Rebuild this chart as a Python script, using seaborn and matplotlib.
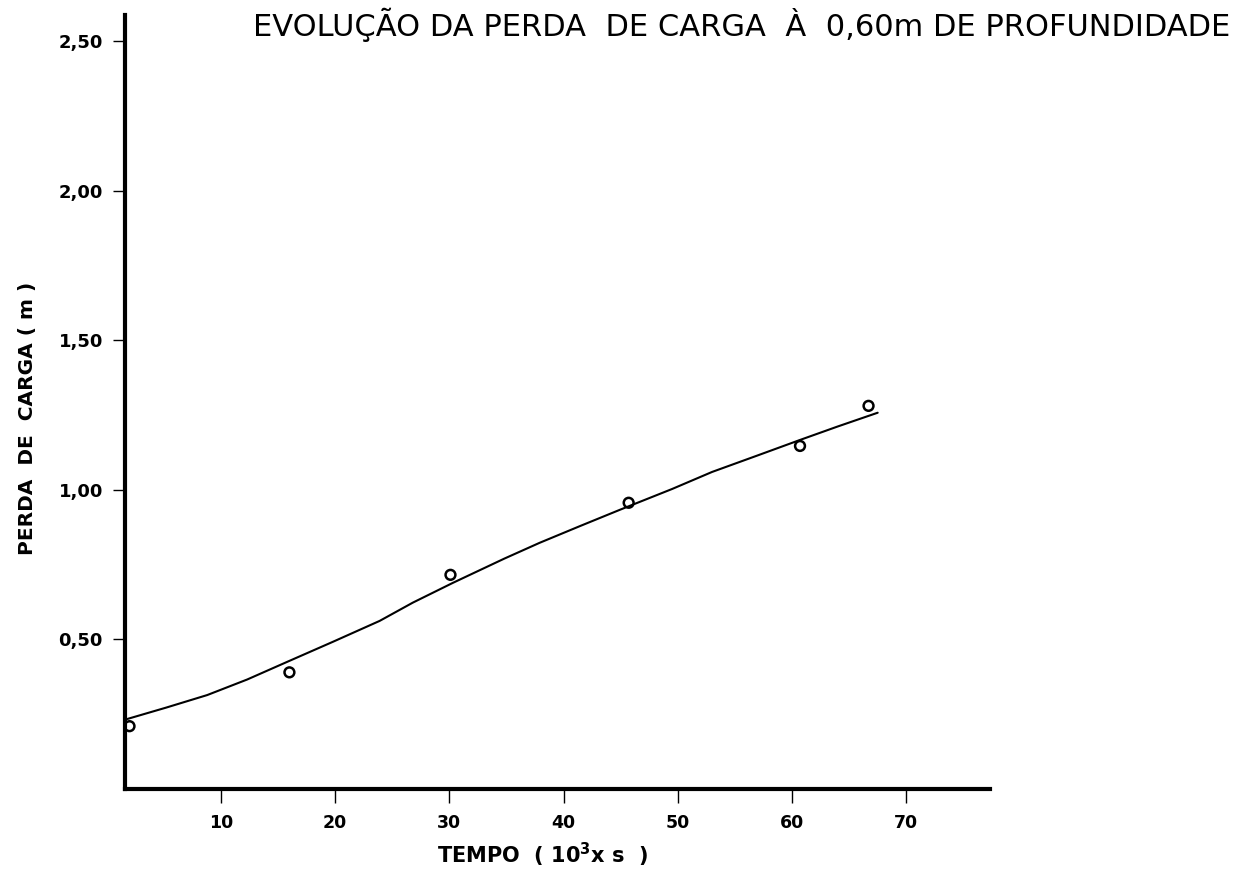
import matplotlib
matplotlib.use("Agg")
import matplotlib.pyplot as plt
import seaborn as sns
import pandas as pd

# Measured points (tempo in 10^3 s, perda de carga in m)
tempo_pts = [2.0, 16.0, 30.1, 45.7, 60.7, 66.7]
perda_pts = [0.21, 0.39, 0.716, 0.957, 1.147, 1.281]

# Hand-drawn fitted curve
tempo_curve = [1.8, 5.2, 8.8, 12.3, 15.8, 19.8, 23.9, 26.8, 30.3, 34.8,
               37.9, 41.5, 44.9, 49.5, 53.0, 56.9, 60.7, 64.0, 67.5]
perda_curve = [0.234, 0.272, 0.314, 0.366, 0.425, 0.492, 0.562, 0.623, 0.689, 0.770,
               0.823, 0.880, 0.933, 1.003, 1.060, 1.114, 1.167, 1.212, 1.258]

x_ticks = [10, 20, 30, 40, 50, 60, 70]
x_tick_labels = ["10", "20", "30", "40", "50", "60", "70"]
y_ticks = [0.5, 1.0, 1.5, 2.0, 2.5]
y_tick_labels = ["0,50", "1,00", "1,50", "2,00", "2,50"]

title = "EVOLUÇÃO DA PERDA  DE CARGA  À  0,60m DE PROFUNDIDADE"
xlabel = "TEMPO  ( 10$^{3}$x s  )"
ylabel = "PERDA  DE  CARGA ( m )"

sns.set_style("ticks")
plt.rcParams["font.family"] = ["DejaVu Sans"]
plt.rcParams["mathtext.fontset"] = "dejavusans"
plt.rcParams["mathtext.default"] = "bf"
plt.rcParams["text.color"] = "black"
plt.rcParams["axes.labelcolor"] = "black"

fig = plt.figure(figsize=(12.53, 8.72), dpi=100)
ax = fig.add_axes([0.0998, 0.0952, 0.690, 0.888])

df_curve = pd.DataFrame({"tempo": tempo_curve, "perda": perda_curve})
df_pts = pd.DataFrame({"tempo": tempo_pts, "perda": perda_pts})

sns.lineplot(data=df_curve, x="tempo", y="perda", sort=False, color="black",
             linewidth=1.5, ax=ax)
sns.scatterplot(data=df_pts, x="tempo", y="perda", marker="o", s=50,
                facecolor="none", edgecolor="black", linewidth=1.8, ax=ax,
                zorder=3)

ax.set_xlim(1.61, 77.3)
ax.set_ylim(0, 2.589)
sns.despine(ax=ax)
for s in ["left", "bottom"]:
    ax.spines[s].set_linewidth(3.0)
    ax.spines[s].set_color("black")

ax.set_xticks(x_ticks)
ax.set_xticklabels(x_tick_labels, fontsize=12.5, fontweight="bold")
ax.set_yticks(y_ticks)
ax.set_yticklabels(y_tick_labels, fontsize=13, fontweight="bold")
ax.tick_params(axis="x", direction="out", length=10, width=1, pad=8, colors="black")
ax.tick_params(axis="y", direction="out", length=9, width=1, pad=7, colors="black")

ax.set_xlabel(xlabel, fontsize=15, fontweight="bold", color="black")
ax.xaxis.set_label_coords(0.483, -0.085)
ax.xaxis.label.set_va("center")
ax.set_ylabel(ylabel, fontsize=14.5, fontweight="bold", color="black")
ax.yaxis.set_label_coords(-0.113, 0.479)
ax.yaxis.label.set_va("center")

fig.text(0.592, 0.971, title, fontsize=22, color="black",
         ha="center", va="center")

fig.savefig("out.png", dpi=100, facecolor="white")
